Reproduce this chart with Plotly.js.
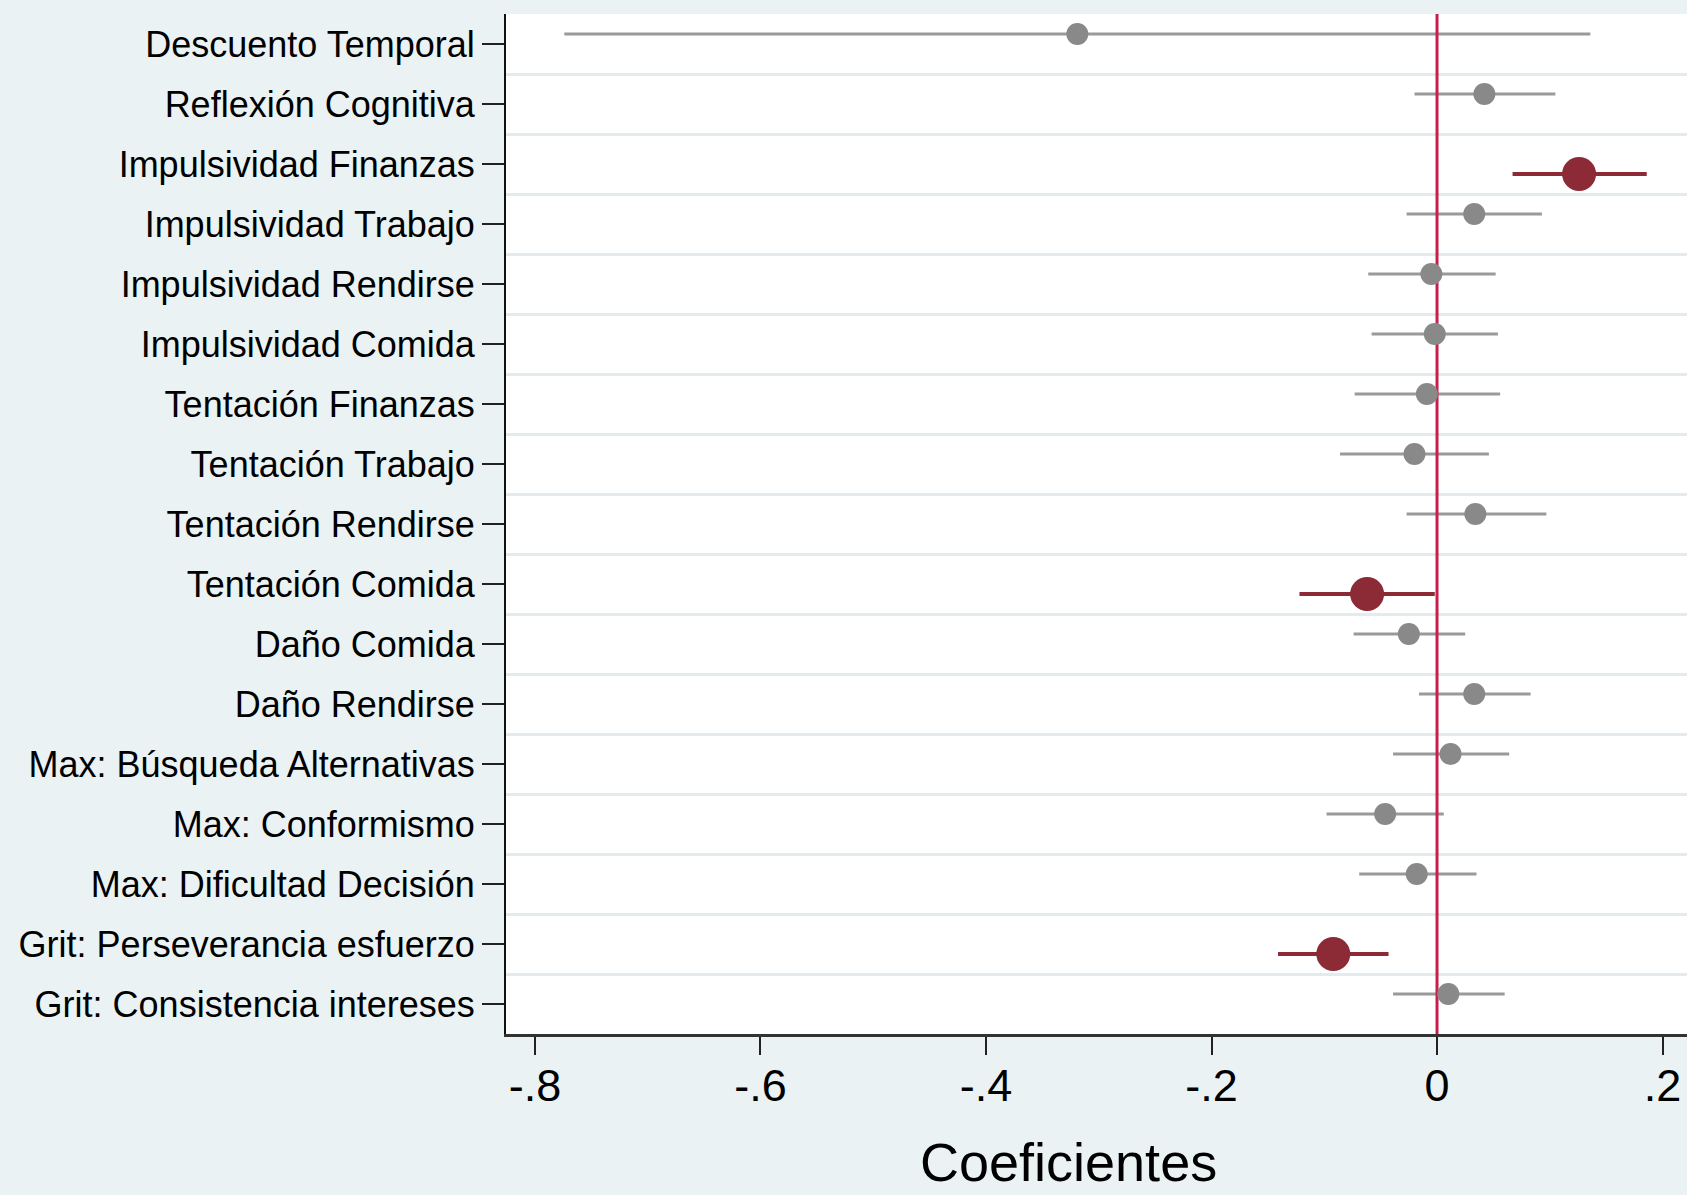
<!DOCTYPE html>
<html>
<head>
<meta charset="utf-8">
<script src="https://cdn.plot.ly/plotly-3.0.1.min.js"></script>
<style>
  html, body { margin: 0; padding: 0; background: #eaf2f3; }
  #chart { width: 1687px; height: 1195px; }
</style>
</head>
<body>
<div id="chart"></div>
<script>
// ---- data ----
const labels = [
  "Descuento Temporal",
  "Reflexión Cognitiva",
  "Impulsividad Finanzas",
  "Impulsividad Trabajo",
  "Impulsividad Rendirse",
  "Impulsividad Comida",
  "Tentación Finanzas",
  "Tentación Trabajo",
  "Tentación Rendirse",
  "Tentación Comida",
  "Daño Comida",
  "Daño Rendirse",
  "Max: Búsqueda Alternativas",
  "Max: Conformismo",
  "Max: Dificultad Decisión",
  "Grit: Perseverancia esfuerzo",
  "Grit: Consistencia intereses"
];
const coef   = [-0.319, 0.042, 0.126, 0.033, -0.005, -0.002, -0.009, -0.020, 0.034, -0.062, -0.025, 0.033, 0.012, -0.046, -0.018, -0.092, 0.010];
const ciLow  = [-0.774, -0.020, 0.067, -0.027, -0.061, -0.058, -0.073, -0.086, -0.027, -0.122, -0.074, -0.016, -0.039, -0.098, -0.069, -0.141, -0.039];
const ciHigh = [0.136, 0.105, 0.186, 0.093, 0.052, 0.054, 0.056, 0.046, 0.097, -0.002, 0.025, 0.083, 0.064, 0.006, 0.035, -0.043, 0.060];
const significant = [0,0,1,0,0,0,0,0,0,1,0,0,0,0,0,1,0];
const xTickVals = [-0.8, -0.6, -0.4, -0.2, 0, 0.2];
const xTickText = ["-.8", "-.6", "-.4", "-.2", "0", ".2"];
const xTitle = "Coeficientes";

// ---- styling ----
const GRAY_MARK = "#898989";
const GRAY_LINE = "#9a9a9a";
const RED_MARK = "#8c2a35";
const RED_LINE = "#8c2a35";
const ZERO_LINE = "#c81e4b";
const OFFSET = 1 / 6;   // coefplot offset of the two series within a row
const FONT = "Liberation Sans, Arial, Helvetica, sans-serif";

const pos = labels.map((_, i) => i + 1);

function subset(flag) {
  const idx = [];
  significant.forEach((s, i) => { if (s === flag) idx.push(i); });
  const off = flag ? OFFSET : -OFFSET;
  return {
    x: idx.map(i => coef[i]),
    y: idx.map(i => pos[i] + off),
    plus: idx.map(i => ciHigh[i] - coef[i]),
    minus: idx.map(i => coef[i] - ciLow[i])
  };
}
const g = subset(0);
const r = subset(1);

const yMin = 0.5, yMax = labels.length + 0.5;

const traces = [
  {
    type: "scatter", mode: "markers", x: g.x, y: g.y,
    marker: { size: 1, opacity: 0 },
    error_x: { type: "data", symmetric: false, array: g.plus, arrayminus: g.minus,
               color: GRAY_LINE, thickness: 3, width: 0 },
    hoverinfo: "skip", showlegend: false
  },
  {
    type: "scatter", mode: "markers", x: r.x, y: r.y,
    marker: { size: 1, opacity: 0 },
    error_x: { type: "data", symmetric: false, array: r.plus, arrayminus: r.minus,
               color: RED_LINE, thickness: 4, width: 0 },
    hoverinfo: "skip", showlegend: false
  },
  {
    type: "scatter", mode: "lines", x: [0, 0], y: [yMin, yMax],
    line: { color: ZERO_LINE, width: 3 },
    hoverinfo: "skip", showlegend: false
  },
  {
    type: "scatter", mode: "markers", x: g.x, y: g.y,
    marker: { size: 22, color: GRAY_MARK, line: { width: 0 } },
    showlegend: false
  },
  {
    type: "scatter", mode: "markers", x: r.x, y: r.y,
    marker: { size: 34, color: RED_MARK, line: { width: 0 } },
    showlegend: false
  }
];

const gridVals = pos.slice(0, -1).map(p => p + 0.5);

const layout = {
  width: 1687, height: 1195,
  paper_bgcolor: "#eaf2f3",
  plot_bgcolor: "#ffffff",
  margin: { l: 506, r: 0, t: 14, b: 161, pad: 0 },
  showlegend: false,
  font: { family: FONT, color: "#000000" },
  xaxis: {
    range: [-0.8257, 0.2217],
    tickmode: "array", tickvals: xTickVals, ticktext: xTickText,
    ticks: "outside", ticklen: 18, tickwidth: 2, tickcolor: "#222222",
    tickfont: { size: 45, family: FONT, color: "#000000" },
    ticklabelstandoff: -8,
    showline: true, linecolor: "#333333", linewidth: 3,
    showgrid: false, zeroline: false,
    automargin: false, fixedrange: true
  },
  yaxis: {
    range: [yMax, yMin],
    tickmode: "array", tickvals: pos, ticktext: labels,
    ticks: "outside", ticklen: 22, tickwidth: 2, tickcolor: "#222222",
    tickfont: { size: 36, family: FONT, color: "#000000" },
    ticklabelstandoff: 0,
    showline: true, linecolor: "#111111", linewidth: 2,
    showgrid: false, zeroline: false,
    minor: { tickmode: "array", tickvals: gridVals, showgrid: true,
             gridcolor: "#e4ebef", gridwidth: 3, ticks: "" },
    automargin: false, fixedrange: true
  },
  annotations: [{
    text: xTitle, xref: "paper", yref: "paper",
    x: 0.476, y: -0.1255, xanchor: "center", yanchor: "middle",
    showarrow: false,
    font: { size: 54, family: FONT, color: "#000000" }
  }]
};

Plotly.newPlot("chart", traces, layout, { displayModeBar: false, staticPlot: true });
</script>
</body>
</html>
